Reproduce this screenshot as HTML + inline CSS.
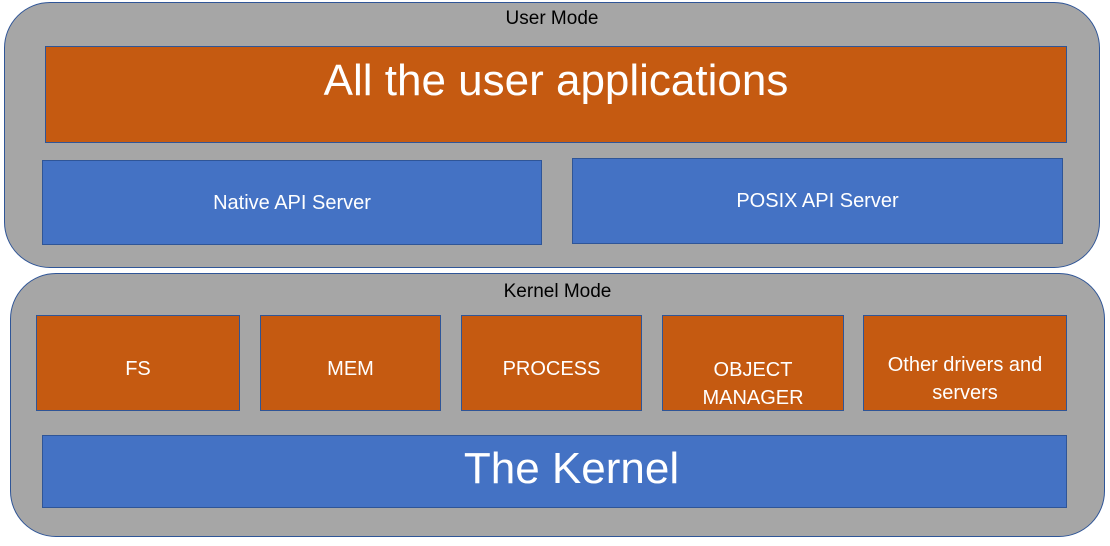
<!DOCTYPE html>
<html><head><style>
body{margin:0;width:1110px;height:546px;background:#fff;position:relative;overflow:hidden;font-family:"Liberation Sans",sans-serif;}
div{position:absolute;box-sizing:border-box;}
.g{background:#a6a6a6;border:1.5px solid #2f5597;border-radius:46px;}
.o,.b{border:1.5px solid #2f5597;color:#fff;display:flex;align-items:center;justify-content:center;text-align:center;font-size:20px;line-height:28px;}
.o{background:#c55a11;}
.b{background:#4472c4;}
.t{color:#000;font-size:19px;text-align:center;}
</style></head><body>
<div class="g" style="left:4px;top:2px;width:1096px;height:266px"></div>
<div class="t" style="left:4px;top:8px;width:1096px">User Mode</div>
<div class="o" style="left:45px;top:46px;width:1022px;height:97px;font-size:44px;padding-bottom:28px">All the user applications</div>
<div class="b" style="left:42px;top:160px;width:500px;height:85px">Native API Server</div>
<div class="b" style="left:572px;top:158px;width:491px;height:86px">POSIX API Server</div>
<div class="g" style="left:10px;top:273px;width:1095px;height:264px"></div>
<div class="t" style="left:10px;top:281px;width:1095px">Kernel Mode</div>
<div class="o" style="left:36px;top:315px;width:204px;height:96px;padding-top:12px">FS</div>
<div class="o" style="left:260px;top:315px;width:181px;height:96px;padding-top:12px">MEM</div>
<div class="o" style="left:461px;top:315px;width:181px;height:96px;padding-top:12px">PROCESS</div>
<div class="o" style="left:662px;top:315px;width:182px;height:96px;padding-top:42px">OBJECT<br>MANAGER</div>
<div class="o" style="left:863px;top:315px;width:204px;height:96px;padding-top:32px">Other drivers and<br>servers</div>
<div class="b" style="left:42px;top:435px;width:1025px;height:73px;font-size:44px;padding-bottom:6px;padding-left:34px">The Kernel</div>
</body></html>
